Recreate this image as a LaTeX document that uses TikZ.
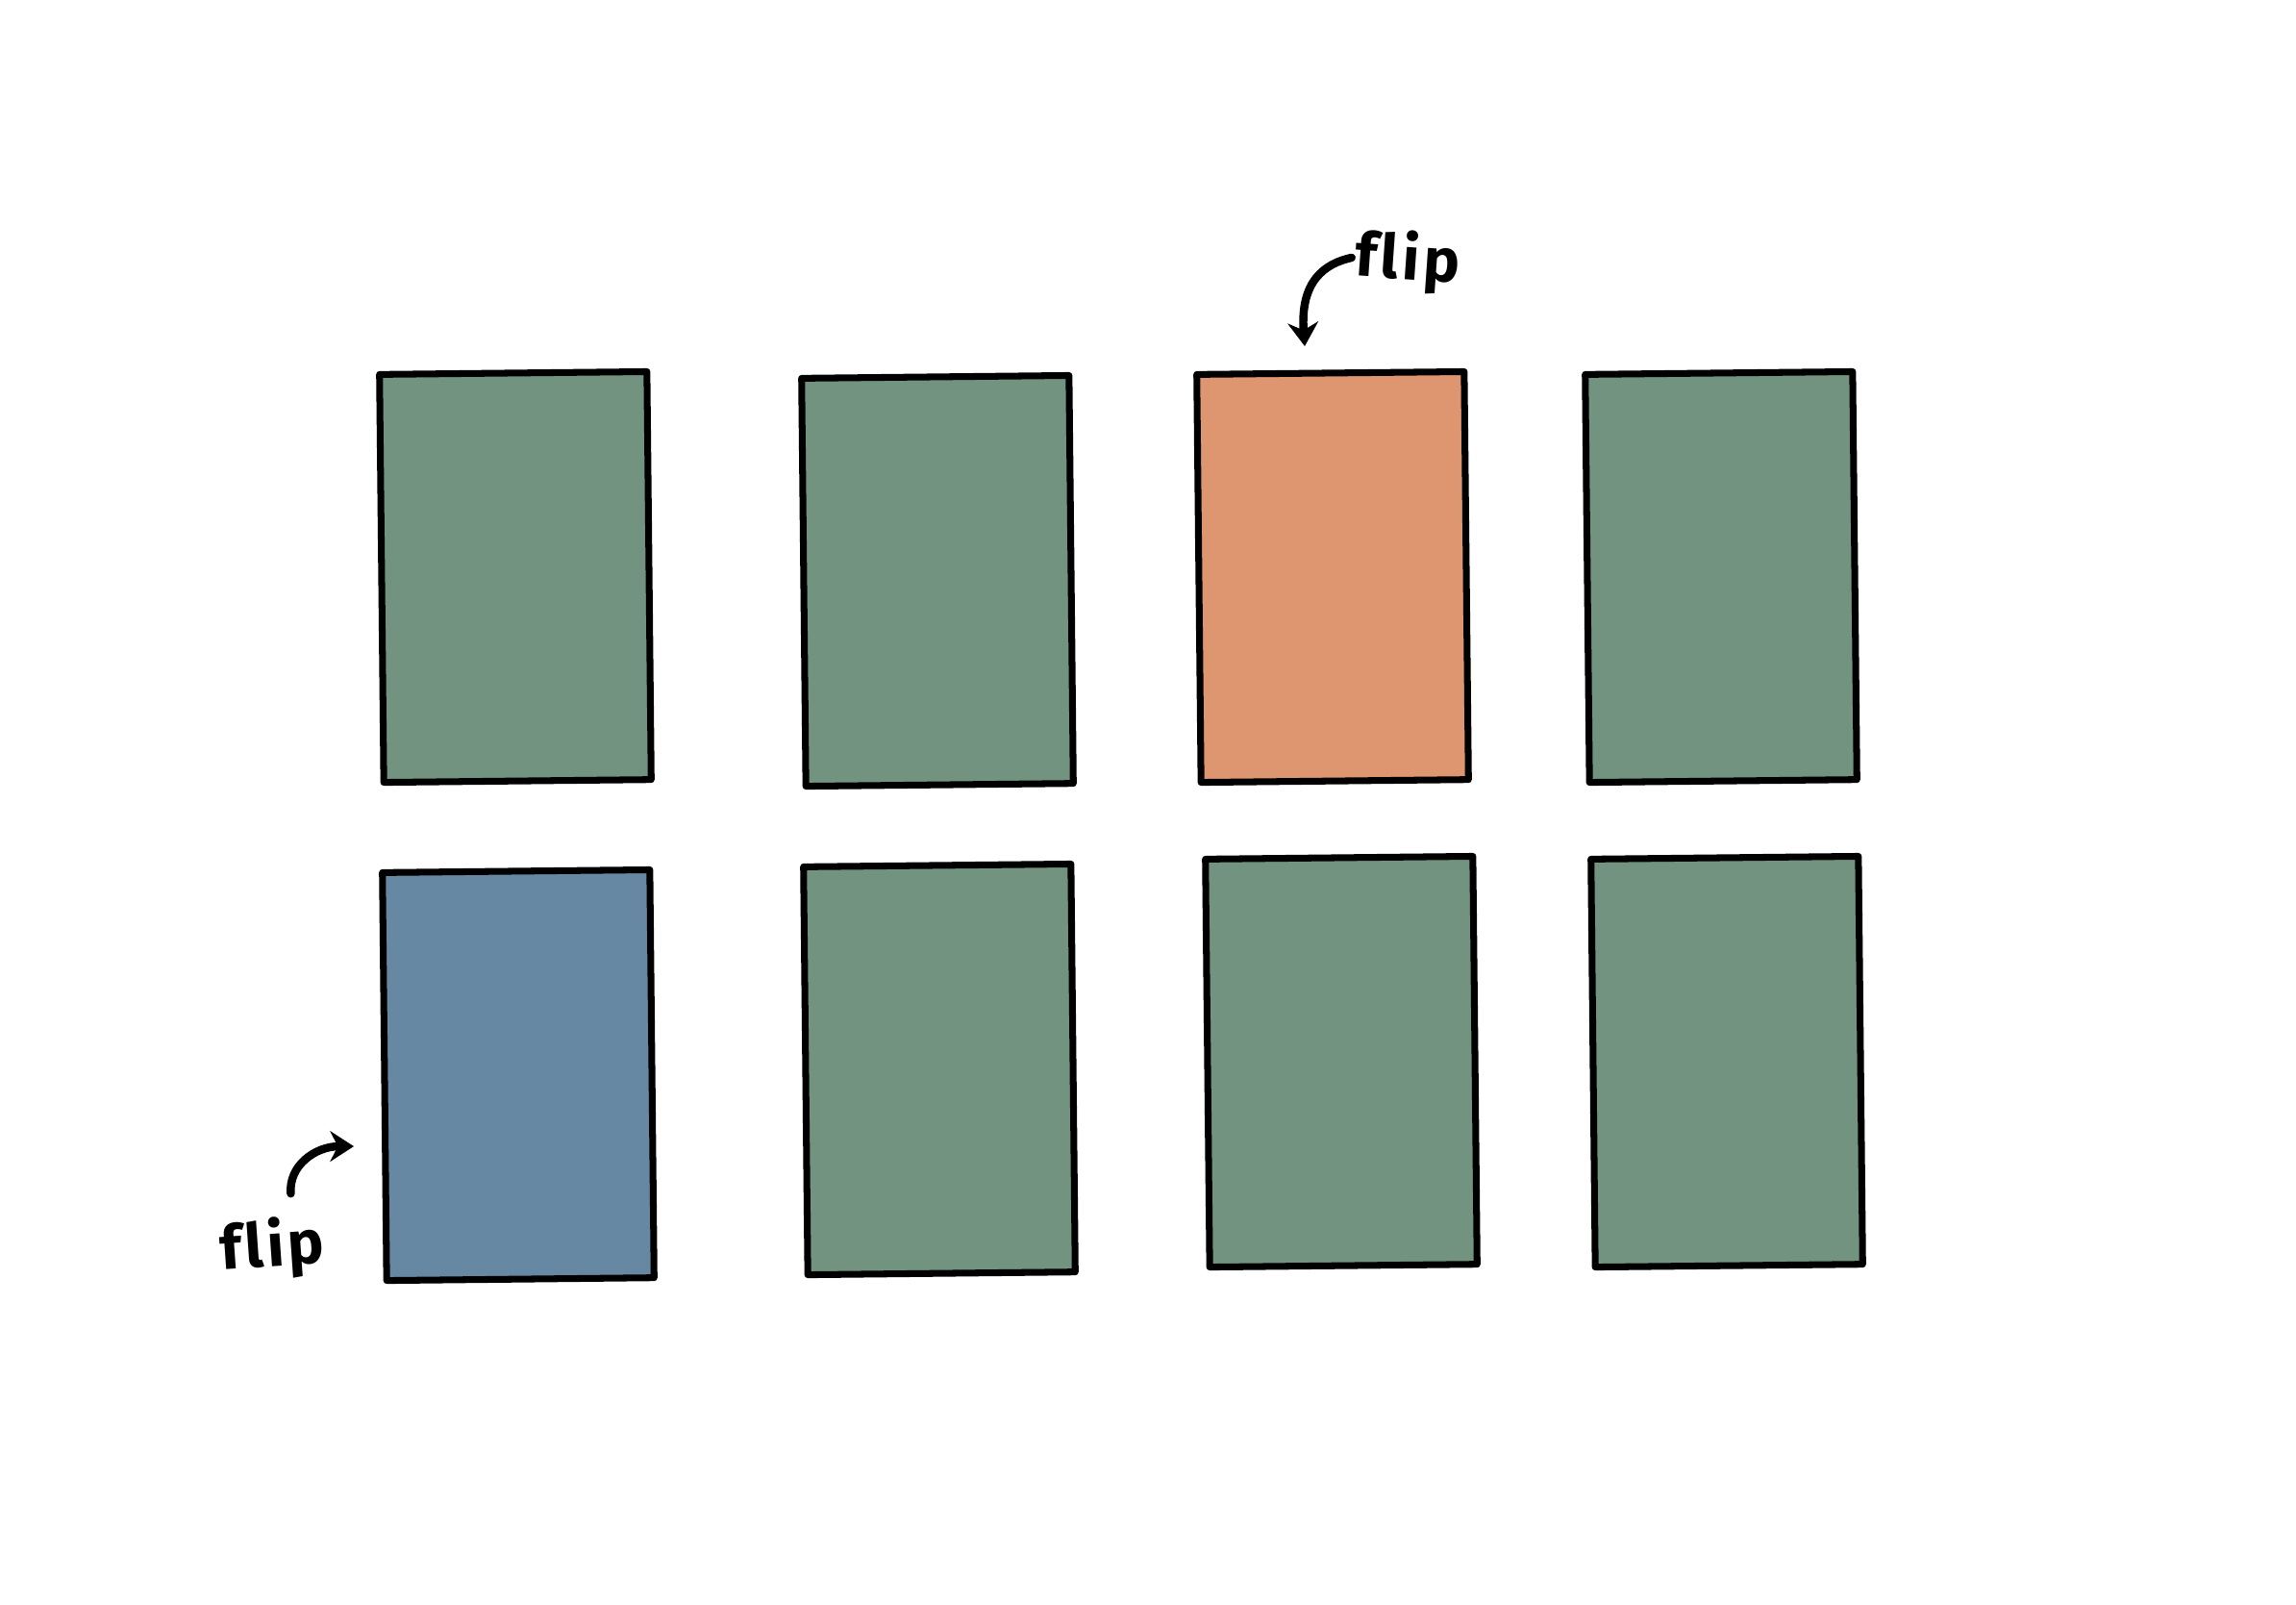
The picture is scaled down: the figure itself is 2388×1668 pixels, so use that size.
\documentclass[tikz,border=0pt]{standalone}
\usepackage{fontspec}
\usetikzlibrary{arrows.meta}
\newfontfamily\flipfont[Ligatures=NoCommon, LetterSpace=6]{Fira Sans}
\definecolor{cardgreen}{RGB}{113,147,128}
\definecolor{cardorange}{RGB}{221,150,112}
\definecolor{cardblue}{RGB}{102,136,163}
\tikzset{
	card/.style={draw=black, line width=2pt, rectangle, inner sep=0pt, minimum width=2.78cm, minimum height=4.24cm, rotate=0.6},
	fliplabel/.style={font=\flipfont\bfseries\fontsize{18}{18}\selectfont, inner sep=1pt},
	fliparrow/.style={->, line width=2.4pt}
}
\begin{document}
\begin{tikzpicture}[x=0.01cm, y=-0.01cm, line join=round, line cap=round, >={Stealth[length=7pt, width=9pt]}]
		\useasboundingbox (0,0) rectangle (2388,1668);
		\foreach \name/\x/\y/\col in {c1/536/600/cardgreen, c2/975/604/cardgreen, c3/1386/600/cardorange, c4/1790/600/cardgreen, c5/539/1118/cardblue, c6/977/1112/cardgreen, c7/1395/1104/cardgreen, c8/1796/1104/cardgreen}
		\node[card, fill=\col] (\name) at (\x,\y) {};
		\node[fliplabel, rotate=-4] (fliptop) at (1464,272) {flip};
		\coordinate (tiptop) at (1357,360);
		\draw[fliparrow] (fliptop.west) .. controls (1378,274) and (1352,292) .. (tiptop);
		\node[fliplabel, rotate=4] (flipbot) at (283,1298) {flip};
		\coordinate (tipbot) at (368,1192);
		\draw[fliparrow] (flipbot.north) ++(22,-20) .. controls (300,1212) and (328,1192) .. (tipbot);
	\end{tikzpicture}
\end{document}
